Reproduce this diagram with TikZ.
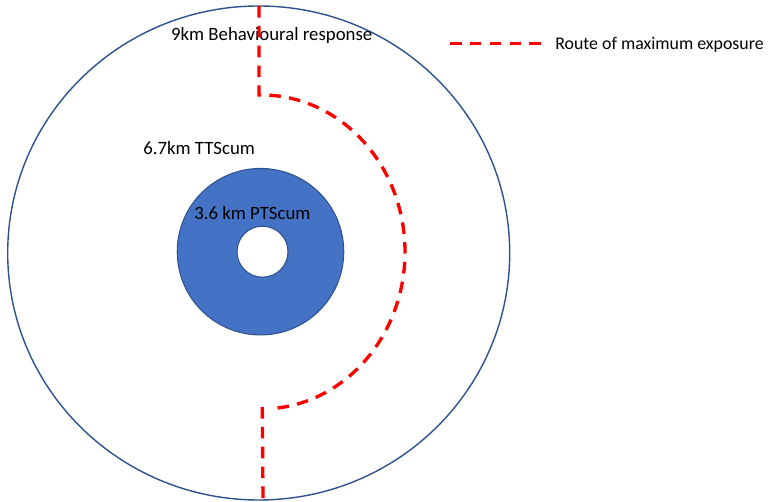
\documentclass[tikz,border=0pt]{standalone}
\usepackage{fontspec}
\setmainfont{Carlito}
\usepackage{xcolor}
\usepackage{tikz}
\usetikzlibrary{arrows.meta,positioning,calc}
\definecolor{ringblue}{HTML}{4472C4}
\definecolor{ringedge}{HTML}{2F528F}

\begin{document}
\begin{tikzpicture}[
  zone/.style={draw=ringedge, line width=0.8pt},
  route/.style={draw=red, line width=1.9pt, dash pattern=on 6.6pt off 4.7pt},
  lab/.style={anchor=base west, inner sep=0pt, font=\fontsize{10.7}{13}\selectfont},
  keylab/.style={lab, font=\fontsize{10.15}{12}\selectfont}]
\useasboundingbox (0,0) rectangle (15.48,10.02);
% --- Zones round the source ---
\draw[zone] (5.174,4.96) ellipse [x radius=5.02, y radius=4.94];
\draw[ringedge, line width=0.6pt, fill=ringblue, even odd rule]
  (5.21,4.986) circle (1.665) (5.25,4.986) circle (0.51);
\node[lab] (behav) at (3.414,9.206) {9km Behavioural response};
\node[lab] (tts)   at (2.86,6.92)   {6.7km TTScum};
\node[lab] (pts)   at (3.88,5.62)   {3.6 km PTScum};
% --- Route of maximum exposure ---
\coordinate (rtop)  at (5.18,9.90);
\coordinate (rturn) at (5.18,8.12);
\coordinate (rout)  at (5.246,1.88);
\coordinate (rend)  at (5.26,0.02);
\draw[route] (rtop) -- (rturn) -- (5.23,8.12)
  arc [start angle=90, end angle=-84, x radius=2.87, y radius=3.14];
\draw[route] (rout) -- (rend);
% --- Legend ---
\coordinate (keyl) at (9.0,9.154);
\coordinate (keyr) at (10.834,9.154);
\draw[route] (keyl) -- (keyr);
\node[keylab] (keytxt) at (11.1,9.02) {Route of maximum exposure};
\end{tikzpicture}
\end{document}
